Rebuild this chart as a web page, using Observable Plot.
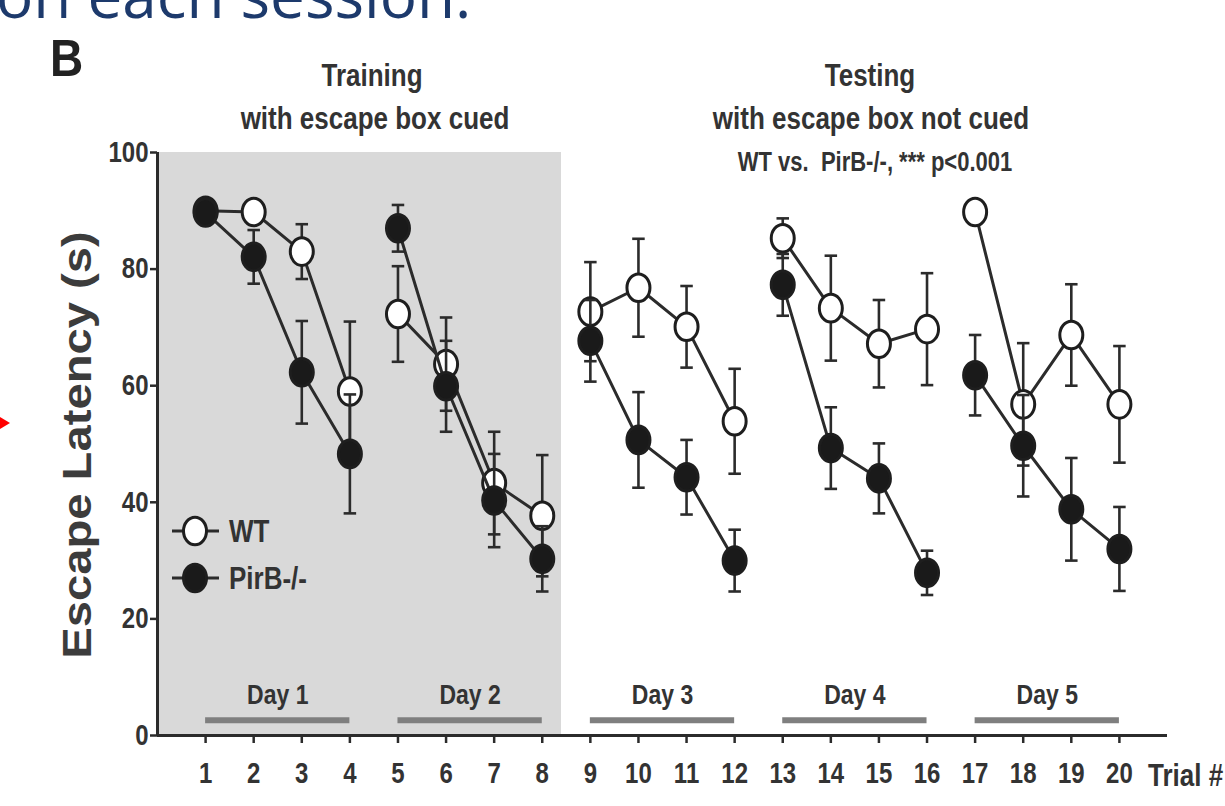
<!DOCTYPE html>
<html>
<head>
<meta charset="utf-8">
<script src="https://cdn.jsdelivr.net/npm/d3@7"></script>
<script src="https://cdn.jsdelivr.net/npm/@observablehq/plot@0.6"></script>
<style>
  html, body { margin: 0; padding: 0; background: #fff; overflow: hidden; }
  #wrap { position: relative; width: 1225px; height: 806px; overflow: hidden; background: #fff; }
  .nar { font-family: "Liberation Sans", Arial, sans-serif; }
  .t { position: absolute; color: #333; font-weight: bold; white-space: pre; line-height: 1;
       transform: translate(-50%, -50%) scaleY(1.22); }
  #top { position: absolute; left: -4px; top: -30px; font-family: "Open Sans", sans-serif; font-size: 62px;
         color: #1d3a6c; white-space: nowrap; line-height: 0.8; }
  #B { position: absolute; left: 50px; top: 36px; font-family: "Liberation Sans", Arial, sans-serif;
       font-weight: bold; font-size: 46px; color: #222; line-height: 0.9; transform: scaleY(1.12); transform-origin: top left; }
  #ytitle { position: absolute; left: 77px; top: 445px; font-family: "Liberation Sans", Arial, sans-serif;
            font-weight: bold; font-size: 40px; color: #3c3c3c; white-space: nowrap; line-height: 1;
            transform: translate(-50%, -50%) rotate(-90deg) scaleX(1.18); }
  #arrow { position: absolute; left: 0; top: 417px; width: 0; height: 0;
           border-left: 10px solid #f00; border-top: 6px solid transparent; border-bottom: 6px solid transparent; }
  #chart, #legend { position: absolute; left: 0; top: 0; }
</style>
</head>
<body>
<div id="wrap">
  <div id="chart"></div>
  <svg id="legend" width="1225" height="806"></svg>
  <div id="top">on each session.</div>
  <div id="arrow"></div>
  <div id="B">B</div>
  <div class="t nar" style="left:372px;top:75px;font-size:26px;">Training</div>
  <div class="t nar" style="left:375px;top:118px;font-size:26px;">with escape box cued</div>
  <div class="t nar" style="left:870px;top:75px;font-size:26px;">Testing</div>
  <div class="t nar" style="left:871px;top:118px;font-size:26px;">with escape box not cued</div>
  <div class="t nar" style="left:875px;top:162px;font-size:22px;">WT vs.  PirB-/-, *** p&lt;0.001</div>
  <div class="t nar" style="left:1148px;top:775px;font-size:26px;transform:translate(0,-50%) scaleY(1.22);">Trial #</div>
  <div id="ytitle">Escape Latency (s)</div>
</div>
<script>
// ---- data ----
const trials  = [1,2,3,4,5,6,7,8,9,10,11,12,13,14,15,16,17,18,19,20];
const dayOf   = [1,1,1,1,2,2,2,2,3,3,3,3,4,4,4,4,5,5,5,5];
const wtMean  = [90, 89.8, 83, 59, 72.3, 63.7, 43.3, 37.7, 72.7, 76.8, 70.1, 53.9, 85.3, 73.3, 67.2, 69.7, 89.8, 56.8, 68.7, 56.8];
const wtSem   = [1, 1.5, 4.7, 12, 8.2, 8, 8.8, 10.4, 8.5, 8.4, 7, 9, 3.4, 9, 7.5, 9.6, 1, 10.5, 8.7, 10];
const koMean  = [89.7, 82.1, 62.3, 48.3, 87, 59.9, 40.3, 30.3, 67.7, 50.7, 44.3, 30, 77.3, 49.3, 44.1, 27.9, 61.8, 49.7, 38.8, 32];
const koSem   = [1, 4.6, 8.8, 10.2, 4, 7.8, 8, 5.6, 7, 8.2, 6.4, 5.3, 5.3, 7, 6, 3.8, 6.9, 8.7, 8.8, 7.2];
const groups  = ["WT", "PirB-/-"];
const dayLabels = ["Day 1", "Day 2", "Day 3", "Day 4", "Day 5"];
const dayStart  = [1, 5, 9, 13, 17];
const dayEnd    = [4, 8, 12, 16, 20];
const phaseName  = ["Training"];
const phaseStart = [0];
const phaseEnd   = [8.4];
const yTicks = [0, 20, 40, 60, 80, 100];

// ---- derived tables ----
const wt = trials.map((t, i) => ({trial: t, day: dayOf[i], mean: wtMean[i], se: wtSem[i]}));
const ko = trials.map((t, i) => ({trial: t, day: dayOf[i], mean: koMean[i], se: koSem[i]}));
const days = dayLabels.map((l, i) => ({label: l, start: dayStart[i], end: dayEnd[i]}));
const phases = phaseName.map((p, i) => ({phase: p, start: phaseStart[i], end: phaseEnd[i]}));

const ink = "#2b2b2b";
const capHalf = 0.13;
const barLevel = 2.6, dayTextLevel = 7.0;
const STRETCH = 1.2;

// slightly tall ellipse marker (the figure is stretched vertically)
const ellipse = {
  draw(ctx, size) {
    const rx = Math.sqrt(size / Math.PI), ry = rx * STRETCH, k = 0.5523;
    ctx.moveTo(rx, 0);
    ctx.bezierCurveTo(rx, ry * k, rx * k, ry, 0, ry);
    ctx.bezierCurveTo(-rx * k, ry, -rx, ry * k, -rx, 0);
    ctx.bezierCurveTo(-rx, -ry * k, -rx * k, -ry, 0, -ry);
    ctx.bezierCurveTo(rx * k, -ry, rx, -ry * k, rx, 0);
    ctx.closePath();
  }
};

function groupMarks(data, fill) {
  return [
    Plot.ruleX(data, {x: "trial", y1: d => d.mean - d.se, y2: d => d.mean + d.se, stroke: ink, strokeWidth: 2.6}),
    Plot.link(data, {x1: d => d.trial - capHalf, x2: d => d.trial + capHalf, y1: d => d.mean + d.se, y2: d => d.mean + d.se, stroke: ink, strokeWidth: 2.6}),
    Plot.link(data, {x1: d => d.trial - capHalf, x2: d => d.trial + capHalf, y1: d => d.mean - d.se, y2: d => d.mean - d.se, stroke: ink, strokeWidth: 2.6}),
    Plot.line(data, {x: "trial", y: "mean", z: "day", stroke: ink, strokeWidth: 3}),
    Plot.dot(data, {x: "trial", y: "mean", r: 11.5, symbol: ellipse, fill, stroke: "#1e1e1e", strokeWidth: 3})
  ];
}

const font = '"Liberation Sans", Arial, sans-serif';

const chart = Plot.plot({
  width: 1225, height: 806,
  marginLeft: 157, marginRight: 58, marginTop: 152, marginBottom: 71,
  x: {domain: [0, 21], axis: null},
  y: {domain: [0, 100], axis: null},
  style: {background: "transparent", color: "#333", fontFamily: font},
  marks: [
    Plot.rectY(phases, {x1: "start", x2: "end", y1: 0, y2: 100, fill: "#d9d9d9"}),
    Plot.ruleY(days, {x1: "start", x2: "end", y: barLevel, stroke: "#7f7f7f", strokeWidth: 6}),
    Plot.text(days, {x: d => (d.start + d.end) / 2, y: dayTextLevel, text: "label", fontSize: 23, fontWeight: "bold", fill: "#333"}),
    Plot.axisY({ticks: yTicks, tickSize: 7, tickPadding: 2, fontSize: 24, fontWeight: "bold", label: null, tickFormat: "d", stroke: ink, strokeWidth: 2.5}),
    Plot.axisX({ticks: trials, tickSize: 8, tickPadding: 21, fontSize: 24, fontWeight: "bold", label: null, tickFormat: "d", stroke: ink, strokeWidth: 2.5}),
    Plot.ruleX([0], {y1: 0, y2: 100, stroke: ink, strokeWidth: 3}),
    Plot.ruleY([0], {x1: 0, x2: 21, stroke: ink, strokeWidth: 3}),
    ...groupMarks(wt, "white"),
    ...groupMarks(ko, "#1a1a1a")
  ]
});
document.getElementById("chart").appendChild(chart);

// stretch every chart text vertically about its own vertical centre (keeps Plot's positioning intact)
chart.querySelectorAll("text").forEach(t => {
  const b = t.getBBox();
  const cy = b.y + b.height / 2;
  const tr = t.getAttribute("transform") || "";
  t.setAttribute("transform", `${tr} translate(0,${cy}) scale(1,${STRETCH}) translate(0,${-cy})`.trim());
});

// ---- legend ----
const leg = d3.select("#legend");
const legendRows = [{name: groups[0], fill: "white", y: 531}, {name: groups[1], fill: "#1a1a1a", y: 578}];
legendRows.forEach(r => {
  leg.append("line").attr("x1", 172).attr("x2", 219).attr("y1", r.y).attr("y2", r.y).attr("stroke", ink).attr("stroke-width", 3);
  leg.append("ellipse").attr("cx", 195).attr("cy", r.y).attr("rx", 11.5).attr("ry", 11.5 * STRETCH).attr("fill", r.fill).attr("stroke", "#1e1e1e").attr("stroke-width", 3);
  leg.append("text").attr("transform", `translate(229,${r.y}) scale(1,${STRETCH})`).attr("dy", "0.35em").attr("font-family", font)
     .attr("font-size", 26).attr("font-weight", "bold").attr("fill", "#333").text(r.name);
});
</script>
</body>
</html>
